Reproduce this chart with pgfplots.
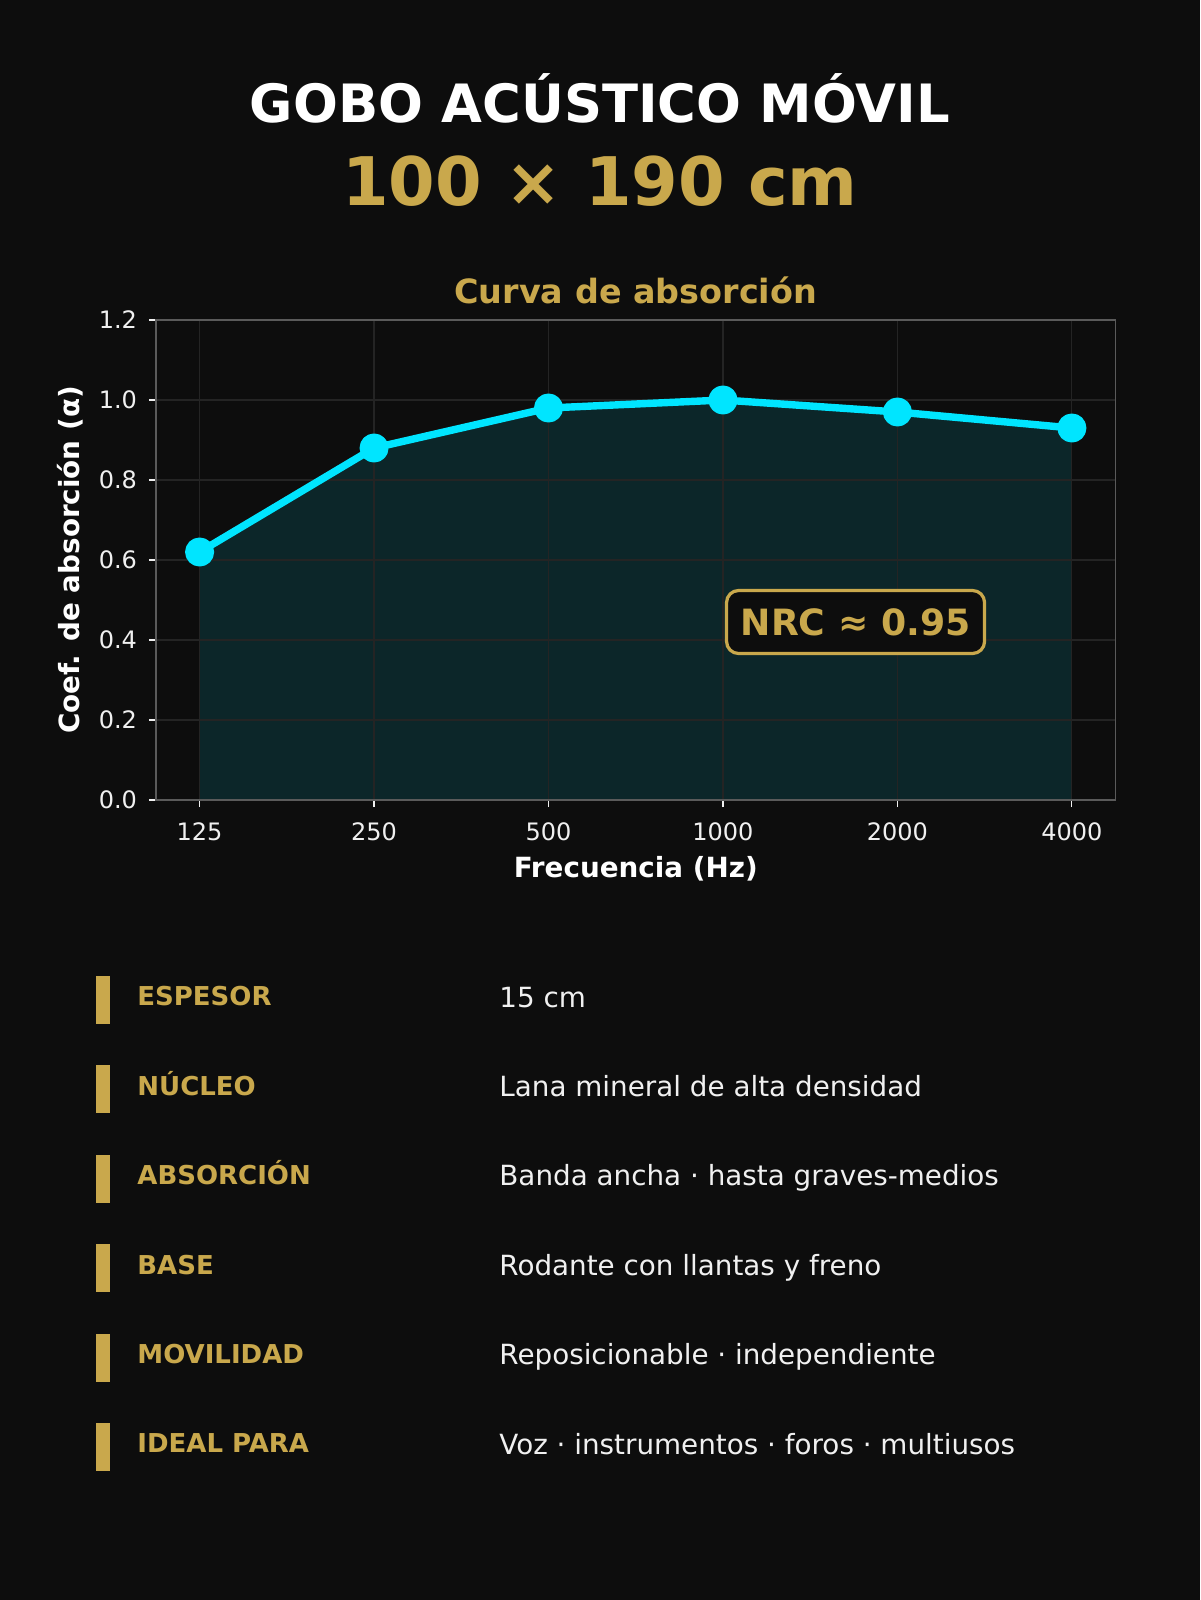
\documentclass[border=0pt]{standalone}
\usepackage{fontspec}
\setmainfont{DejaVu Sans}
\usepackage{pgfplots}
\usepackage{pgfplotstable}
\pgfplotsset{compat=1.18}

\definecolor{bgc}{RGB}{13,13,13}
\definecolor{gold}{RGB}{201,168,76}
\definecolor{cyanc}{RGB}{0,229,255}
\definecolor{areac}{RGB}{12,38,41}
\definecolor{gridc}{RGB}{36,36,36}
\definecolor{framec}{RGB}{90,90,90}
\definecolor{txt}{RGB}{240,240,240}
\pagecolor{bgc}

% absorption coefficient per octave band (125 Hz ... 4000 Hz)
\pgfplotstableread{
x y
0 0.62
1 0.88
2 0.98
3 1.00
4 0.97
5 0.93
}\absdata

\begin{document}
\begin{tikzpicture}
\path (0,0) rectangle (600pt,-800pt);

\node[anchor=base, inner sep=0, text=white, font=\fontsize{26.4}{30}\selectfont\bfseries]
  at (300pt,-61.5pt) {GOBO ACÚSTICO MÓVIL};
\node[anchor=base, inner sep=0, text=gold, font=\fontsize{33.5}{38}\selectfont\bfseries]
  at (300pt,-102.5pt) {100 × 190 cm};

\begin{axis}[
  set layers,
  at={(78pt,-400pt)}, anchor=south west,
  scale only axis, width=479.75pt, height=240pt,
  xmin=-0.25, xmax=5.25, ymin=0, ymax=1.2,
  xtick={0,1,2,3,4,5},
  xticklabels={125,250,500,1000,2000,4000},
  ytick={0,0.2,0.4,0.6,0.8,1.0,1.2},
  xtick pos=bottom, ytick pos=left,
  tick align=outside, major tick length=3.5pt,
  tick style={txt, line width=0.6pt},
  axis line style={framec, line width=0.8pt},
  grid=major, major grid style={gridc, line width=0.6pt},
  /pgf/number format/.cd, fixed, fixed zerofill, precision=1, assume math mode=true,
  /pgfplots/.cd,
  ticklabel style={text=txt, font=\fontsize{12}{14}\selectfont},
  xticklabel style={yshift=-4.5pt},
  yticklabel style={xshift=-2.5pt},
  title={Curva de absorción},
  title style={at={(0.5,1.01)}, anchor=base, inner sep=0, text=gold,
    font=\fontsize{16.7}{19}\selectfont\bfseries},
  xlabel={Frecuencia (Hz)},
  xlabel style={at={(axis description cs:0.5,-0.1615)}, anchor=base, inner sep=0,
    text=white, font=\fontsize{13.9}{16}\selectfont\bfseries},
  ylabel={Coef. de absorción (α)},
  ylabel style={at={(axis description cs:-0.0896,0.5)}, anchor=center, inner sep=0,
    text=white, font=\fontsize{13.9}{16}\selectfont\bfseries},
]
\addplot[on layer=axis background, draw=none, fill=areac] table[x=x, y=y] {\absdata} \closedcycle;
\addplot[cyanc, line width=3.7pt, line join=round, mark=*, mark size=5.4pt,
  mark options={draw=none, fill=cyanc}] table[x=x, y=y] {\absdata};
\node[draw=gold, line width=1.6pt, rounded corners=6pt, fill=bgc, text=gold,
  font=\fontsize{18.1}{21}\selectfont\bfseries, inner sep=0,
  minimum width=129pt, minimum height=31.5pt] at (axis cs:3.76,0.445) {NRC ≈ 0.95};
\end{axis}

% spec list
\foreach \lab/\val [count=\i from 0] in {
  ESPESOR/15 cm,
  NÚCLEO/Lana mineral de alta densidad,
  ABSORCIÓN/Banda ancha · hasta graves-medios,
  BASE/Rodante con llantas y freno,
  MOVILIDAD/Reposicionable · independiente,
  IDEAL PARA/Voz · instrumentos · foros · multiusos} {
  \pgfmathsetmacro\yc{-500-\i*44.7}
  \fill[gold] (48pt,\yc pt+12pt) rectangle (55pt,\yc pt-12pt);
  \node[anchor=base west, inner sep=0, text=gold, font=\fontsize{13}{15}\selectfont\bfseries]
    at (68.5pt,\yc pt-2.9pt) {\lab};
  \node[anchor=base west, inner sep=0, text=txt, font=\fontsize{13.9}{16}\selectfont]
    at (249.5pt,\yc pt-3.5pt) {\val};
}
\end{tikzpicture}
\end{document}
